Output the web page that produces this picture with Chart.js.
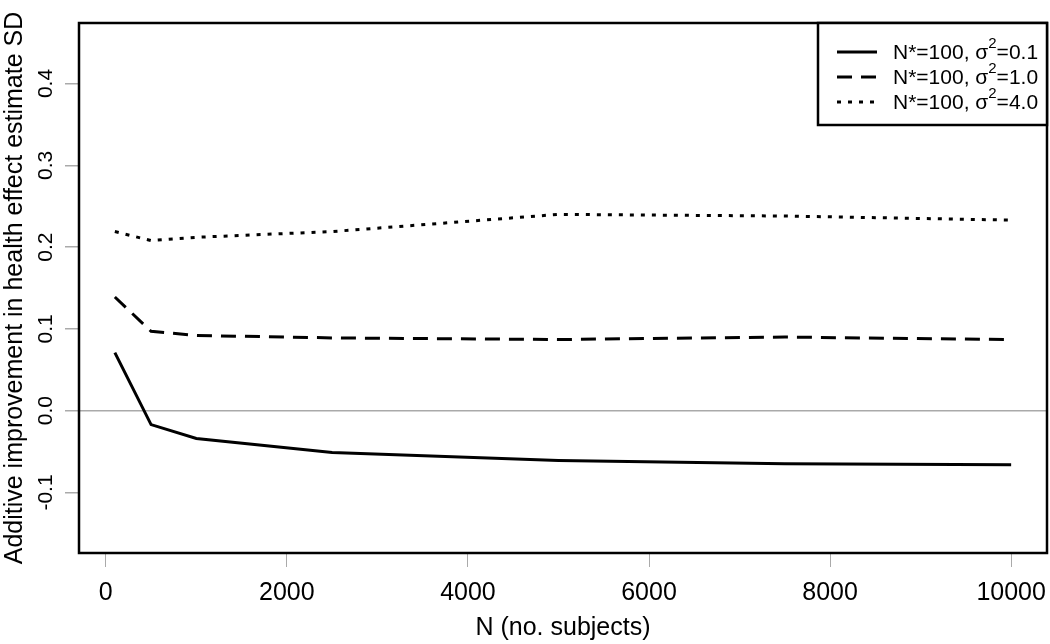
<!DOCTYPE html>
<html>
<head>
<meta charset="utf-8">
<script src="https://cdn.jsdelivr.net/npm/chart.js@4"></script>
<style>
  body { margin: 0; background: #fff; }
  canvas { display: block; }
</style>
</head>
<body>
<canvas id="c" width="1050" height="644"></canvas>
<script>
// N values (no. subjects)
const nValues = [100, 500, 1000, 2500, 5000, 7500, 10000];
const sd01 = [0.071, -0.017, -0.034, -0.051, -0.061, -0.065, -0.066];
const sd10 = [0.139, 0.097, 0.092, 0.089, 0.087, 0.090, 0.087];
const sd40 = [0.219, 0.208, 0.212, 0.219, 0.240, 0.238, 0.233];
const seriesLabels = ["N*=100, σ²=0.1", "N*=100, σ²=1.0", "N*=100, σ²=4.0"];
const xTicks = [0, 2000, 4000, 6000, 8000, 10000];
const yTicks = [-0.1, 0.0, 0.1, 0.2, 0.3, 0.4];

const FONT = "'Liberation Sans', Arial, sans-serif";

const toPoints = (vals) => vals.map((v, i) => ({ x: nValues[i], y: v }));

// box, rotated y labels and legend, R style
const rStyle = {
  id: "rStyle",
  afterDraw(chart) {
    const ctx = chart.ctx;
    const a = chart.chartArea;
    const y = chart.scales.y;
    ctx.save();
    ctx.strokeStyle = "#000";
    ctx.lineWidth = 2.5;
    ctx.strokeRect(a.left, a.top, a.right - a.left, a.bottom - a.top);

    // y tick labels, rotated like R's las=0
    ctx.fillStyle = "#000";
    ctx.font = "21px " + FONT;
    ctx.textAlign = "center";
    ctx.textBaseline = "middle";
    yTicks.forEach((v) => {
      const py = y.getPixelForValue(v);
      ctx.save();
      ctx.translate(46, py);
      ctx.rotate(-Math.PI / 2);
      ctx.fillText(v.toFixed(1), 0, 0);
      ctx.restore();
    });

    // legend
    const lx = 818, ly = a.top, lw = a.right - lx, lh = 102;
    ctx.fillStyle = "#fff";
    ctx.fillRect(lx, ly, lw, lh);
    ctx.strokeRect(lx, ly, lw, lh);
    chart.data.datasets.forEach((ds, i) => {
      const ry = ly + 29 + i * 25;
      ctx.beginPath();
      ctx.setLineDash(ds.borderDash || []);
      ctx.lineWidth = ds.borderWidth;
      ctx.strokeStyle = "#000";
      ctx.moveTo(837, ry);
      ctx.lineTo(877, ry);
      ctx.stroke();
      ctx.setLineDash([]);
      const parts = ds.label.split("²");
      ctx.textAlign = "left";
      ctx.fillStyle = "#000";
      ctx.font = "21px " + FONT;
      let tx = 893;
      ctx.fillText(parts[0], tx, ry + 1);
      tx += ctx.measureText(parts[0]).width;
      ctx.font = "15px " + FONT;
      ctx.fillText("2", tx, ry - 8);
      tx += ctx.measureText("2").width;
      ctx.font = "21px " + FONT;
      ctx.fillText(parts[1], tx, ry + 1);
    });
    ctx.restore();
  },
};

new Chart(document.getElementById("c"), {
  type: "line",
  data: {
    datasets: [
      { label: seriesLabels[0], data: toPoints(sd01), borderDash: [] },
      { label: seriesLabels[1], data: toPoints(sd10), borderDash: [15, 9] },
      { label: seriesLabels[2], data: toPoints(sd40), borderDash: [4, 7] },
    ].map((d) => ({
      ...d,
      borderColor: "#000",
      borderWidth: 3,
      pointRadius: 0,
      tension: 0,
      fill: false,
    })),
  },
  options: {
    responsive: false,
    animation: false,
    layout: { padding: { top: 23, right: 3, left: 0, bottom: 0 } },
    plugins: { legend: { display: false }, tooltip: { enabled: false } },
    scales: {
      x: {
        type: "linear",
        min: -296,
        max: 10396,
        afterBuildTicks: (s) => { s.ticks = xTicks.map((v) => ({ value: v })); },
        afterFit: (s) => { s.height = 91; s.paddingLeft = 0; s.paddingRight = 0; },
        border: { display: false },
        grid: { drawOnChartArea: false, tickLength: 14, tickColor: "#aaa", lineWidth: 1 },
        ticks: { color: "#000", font: { size: 25, family: FONT }, padding: 11, maxRotation: 0, callback: (v) => String(v) },
        title: { display: true, text: "N (no. subjects)", color: "#000", font: { size: 25, family: FONT }, padding: { top: 0, bottom: 1 } },
      },
      y: {
        type: "linear",
        min: -0.174,
        max: 0.474,
        afterBuildTicks: (s) => { s.ticks = yTicks.map((v) => ({ value: v })); },
        afterFit: (s) => { s.width = 79; s.paddingTop = 0; s.paddingBottom = 0; },
        border: { display: false },
        grid: {
          drawOnChartArea: true,
          tickLength: 14,
          tickColor: "#aaa",
          lineWidth: 1.5,
          color: (c) => (c.tick && Math.abs(c.tick.value) < 1e-9 ? "#aaa" : "rgba(0,0,0,0)"),
        },
        ticks: { display: false },
        title: { display: true, text: "Additive improvement in health effect estimate SD", color: "#000", font: { size: 25, family: FONT }, padding: { top: 0, bottom: 0 } },
      },
    },
  },
  plugins: [rStyle],
});
</script>
</body>
</html>
